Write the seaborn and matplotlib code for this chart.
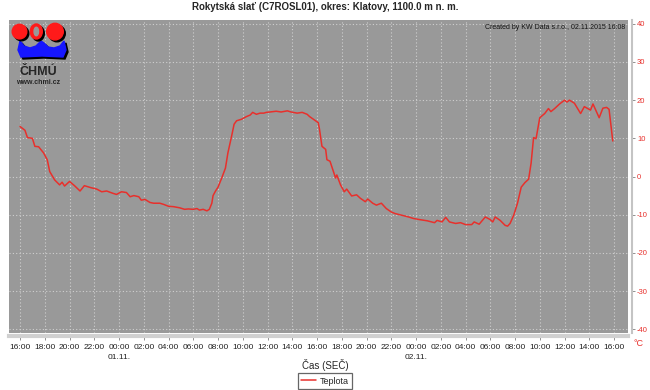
import pandas as pd
import seaborn as sns
import matplotlib.pyplot as plt
import matplotlib.dates as mdates
from matplotlib.patches import Circle, Ellipse, Polygon
from matplotlib.lines import Line2D

# hours since 31.10.2015 16:00 and air temperature (deg C)
hours = [0.0, 0.4, 0.6, 1.0, 1.2, 1.5, 1.9, 2.2, 2.4, 2.8, 3.2, 3.4, 3.6, 4.0, 4.4, 4.85,
         5.2, 5.7, 6.2, 6.6, 7.0, 7.5, 7.8, 8.2, 8.6, 8.9, 9.2, 9.6, 9.8, 10.1, 10.5, 10.8,
         11.3, 11.6, 12.0, 12.4, 12.9, 13.3, 13.6, 14.0, 14.3, 14.5, 14.8, 15.1, 15.3, 15.5,
         15.6, 15.8, 16.0, 16.3, 16.6, 16.8, 17.1, 17.3, 17.5, 17.9, 18.3, 18.6, 18.8, 19.1,
         19.4, 19.7, 19.9, 20.2, 20.7, 21.1, 21.6, 21.9, 22.4, 22.8, 23.2, 23.4, 24.1, 24.2,
         24.4, 24.7, 24.8, 25.05, 25.5, 25.6, 25.9, 26.2, 26.4, 26.8, 27.2, 27.5, 27.9, 28.1,
         28.5, 28.8, 29.2, 29.6, 30.0, 30.3, 30.8, 31.4, 31.8, 32.3, 32.9, 33.5, 33.7, 34.1,
         34.4, 34.7, 35.2, 35.6, 36.0, 36.5, 36.7, 37.1, 37.6, 38.0, 38.2, 38.4, 38.8, 39.2,
         39.4, 39.6, 39.9, 40.2, 40.5, 40.8, 41.1, 41.3, 41.5, 41.7, 42.0, 42.4, 42.7, 42.9,
         43.2, 43.6, 44.0, 44.2, 44.4, 44.8, 45.3, 45.6, 46.1, 46.3, 46.8, 47.1, 47.4, 47.6,
         47.9]
temps = [13.1, 12.1, 10.2, 10.0, 7.9, 7.8, 6.2, 4.4, 1.3, -0.9, -2.2, -1.5, -2.5, -1.3, -2.4, -3.8,
         -2.4, -2.9, -3.3, -4.0, -3.8, -4.4, -4.7, -4.0, -4.2, -5.3, -5.0, -5.3, -6.2, -6.0, -6.8, -7.0,
         -7.0, -7.3, -7.8, -7.9, -8.2, -8.6, -8.5, -8.6, -8.4, -8.8, -8.6, -9.0, -8.6, -7.0,
         -5.0, -3.8, -2.8, -0.4, 2.2, 6.2, 10.6, 13.7, 14.6, 15.0, 15.7, 16.1, 16.8, 16.3,
         16.6, 16.6, 16.8, 16.9, 17.1, 16.9, 17.2, 16.9, 16.6, 16.8, 16.3, 15.7, 14.1, 12.4,
         7.9, 7.1, 4.4, 4.0, -0.4, 0.4, -2.2, -4.0, -3.3, -5.1, -4.8, -5.7, -6.6, -5.9,
         -7.0, -7.5, -7.0, -8.4, -9.3, -9.7, -10.1, -10.6, -11.0, -11.3, -11.6, -12.1, -11.5, -11.9,
         -10.7, -11.9, -12.3, -12.1, -12.6, -12.6, -11.9, -12.5, -10.6, -11.3, -11.9, -10.6, -11.5, -12.8,
         -13.0, -12.3, -10.1, -7.0, -2.8, -1.6, -0.7, 3.5, 10.2, 9.9, 15.4, 16.5, 17.8, 17.0,
         17.8, 19.0, 20.0, 19.5, 20.0, 19.2, 16.5, 18.3, 17.4, 19.0, 15.4, 17.9, 18.1, 17.6,
         9.3]
y_ticks = [-40, -30, -20, -10, 0, 10, 20, 30, 40]

start = pd.Timestamp("2015-10-31 16:00")
df = pd.DataFrame({"cas": start + pd.to_timedelta(hours, unit="h"), "Teplota": temps})

sns.set_style("white")
plt.rcParams['font.family'] = ['Liberation Sans', 'DejaVu Sans']
plt.rcParams['axes.unicode_minus'] = False

red = '#e8302c'
fig = plt.figure(figsize=(6.5, 3.9), dpi=100)
ax = fig.add_axes([9/650, 1 - 333/390, 619/650, 313/390])
ax.set_facecolor('#999999')

sns.lineplot(data=df, x="cas", y="Teplota", ax=ax, color=red, linewidth=1.1, legend=False)

ax.set_xlim(start - pd.Timedelta(hours=0.89), start + pd.Timedelta(hours=49.13))
ax.set_ylim(-41, 41)
ax.set_yticks(y_ticks)
ax.yaxis.tick_right()

# x ticks every 2 hours, date under midnight
ax.xaxis.set_major_locator(mdates.HourLocator(byhour=range(0, 24, 2)))
def fmt(x, pos=None):
    d = mdates.num2date(x)
    s = d.strftime("%H:%M")
    if d.hour == 0:
        s += "\n" + d.strftime("%d.%m.")
    return s
ax.xaxis.set_major_formatter(plt.FuncFormatter(fmt))

ax.grid(True, color='#cfcfcf', linestyle=(0, (1, 2)), linewidth=0.8)
for s in ['left', 'top']:
    ax.spines[s].set_visible(False)
ax.spines['right'].set_position(('outward', 3))
ax.spines['right'].set_color('#c4c4c4')
ax.spines['right'].set_linewidth(1.5)
ax.spines['bottom'].set_position(('outward', 2))
ax.spines['bottom'].set_color('#d0d0d0')
ax.spines['bottom'].set_linewidth(3)
ax.tick_params(axis='y', right=True, length=2.5, width=0.6, color='#808080', labelcolor=red,
               labelsize=5.5, pad=1)
ax.tick_params(axis='x', bottom=True, length=3, width=0.6, color='#808080', labelcolor='#222222',
               labelsize=6, pad=3)
for lab in ax.get_xticklabels():
    lab.set_linespacing(1.6)
ax.set_xlabel("")
ax.set_ylabel("")

ax.text(0.996, 0.988, "Created by KW Data s.r.o., 02.11.2015 16:08", transform=ax.transAxes,
        ha='right', va='top', fontsize=5, color='#111111')

fig.text(325/650, 1 - 7/390, "Rokytská slať (C7ROSL01), okres: Klatovy, 1100.0 m n. m.",
         ha='center', va='center', fontsize=7, fontweight='bold')
fig.text(325/650, 1 - 365/390, "Čas (SEČ)", ha='center', va='center', fontsize=7)
fig.text(639/650, 1 - 343/390, "°C", ha='center', va='center', fontsize=6.5, color=red)

handle = Line2D([], [], color=red, linewidth=1.1)
leg = fig.legend([handle], ["Teplota"], loc='center', bbox_to_anchor=(325/650, 1 - 381/390),
                 fontsize=6.5, frameon=True, fancybox=False, handlelength=1.6,
                 handletextpad=0.4, borderpad=0.35, borderaxespad=0)
leg.get_frame().set_edgecolor('#404040')
leg.get_frame().set_linewidth(0.9)

# CHMU logo (decoration, pixel coordinates)
lg = fig.add_axes([0, 1 - 90/390, 80/650, 75/390])
lg.set_xlim(0, 80)
lg.set_ylim(90, 15)
lg.axis('off')
lg.patch.set_alpha(0)
wave = [(20, 41), (24, 46), (30, 48), (36, 46), (41, 41), (44, 43), (48, 47), (54, 48),
        (60, 46), (64, 41), (66, 50), (63, 57), (42, 56), (21, 57), (18, 50)]
lg.add_patch(Polygon([(x + 2, y + 2) for x, y in wave], color='black'))
lg.add_patch(Polygon(wave, color='#1616ff'))
for cx, r in [(19.5, 7.3), (55, 8.3)]:
    lg.add_patch(Circle((cx + 2, 33.5), r, color='black'))
    lg.add_patch(Circle((cx, 31.6), r, color='#ff1a1a'))
lg.add_patch(Ellipse((38.3, 33.5), 12, 15, color='black'))
lg.add_patch(Ellipse((36.3, 31.5), 12, 15, color='#ff1a1a'))
lg.add_patch(Ellipse((36.3, 31.5), 4.5, 8.5, color='#999999'))
lg.text(38, 72, "ČHMÚ", ha='center', va='center', fontsize=9, fontweight='bold')
lg.text(38, 83, "www.chmi.cz", ha='center', va='center', fontsize=5, fontweight='bold')

fig.savefig("out.png", dpi=100)
